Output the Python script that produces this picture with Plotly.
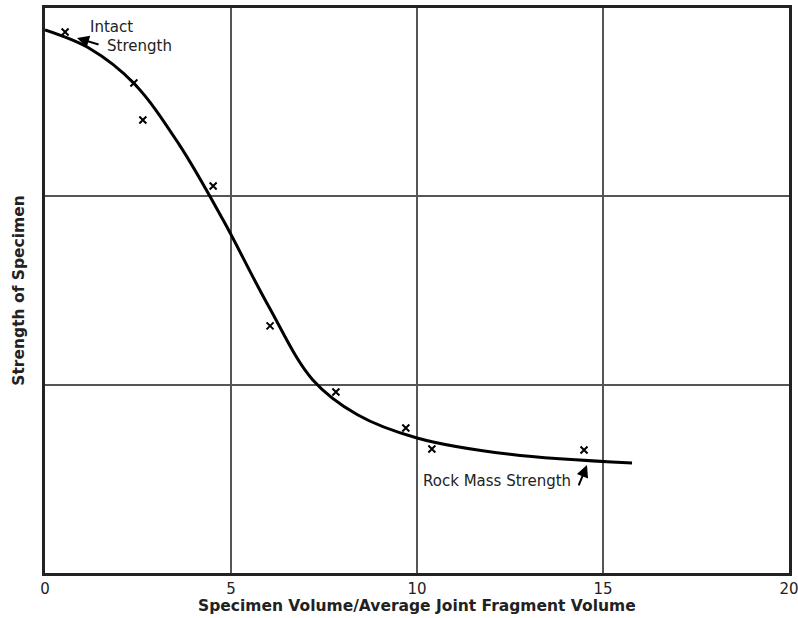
import plotly.graph_objects as go

# Data
curve_x = [0, 1.2, 2.4, 3.6, 4.8, 6.0, 7.2, 8.4, 10, 12.5, 15.78]
curve_y = [2.883, 2.785, 2.598, 2.277, 1.87, 1.42, 1.025, 0.84, 0.717, 0.63, 0.584]
pts_x = [0.54, 2.39, 2.63, 4.52, 6.05, 7.82, 9.70, 10.40, 14.49]
pts_y = [2.873, 2.602, 2.405, 2.055, 1.312, 0.961, 0.770, 0.658, 0.653]
x_ticks = [0, 5, 10, 15, 20]
y_grid = [0, 1, 2, 3]

fig = go.Figure()
fig.add_trace(go.Scatter(x=curve_x, y=curve_y, mode="lines",
                         line=dict(color="black", width=3, shape="spline", smoothing=1.0),
                         showlegend=False, hoverinfo="skip"))
fig.add_trace(go.Scatter(x=pts_x, y=pts_y, mode="markers",
                         marker=dict(symbol="x-thin", size=7, line=dict(color="black", width=2)),
                         showlegend=False))

font = "DejaVu Sans, Verdana, sans-serif"
txt = dict(family=font, size=15, color="#222")
anns = [
    dict(x=1.80, y=2.90, text="Intact", showarrow=False, font=txt),
    dict(x=2.55, y=2.80, text="Strength", showarrow=False, font=txt),
    dict(x=12.15, y=0.489, text="Rock Mass Strength", showarrow=False, font=txt),
    dict(x=0.86, y=2.841, ax=1.48, ay=2.804, axref="x", ayref="y", text="",
         showarrow=True, arrowhead=2, arrowsize=1.2, arrowwidth=2, arrowcolor="black"),
    dict(x=14.57, y=0.573, ax=14.33, ay=0.457, axref="x", ayref="y", text="",
         showarrow=True, arrowhead=2, arrowsize=1.2, arrowwidth=2, arrowcolor="black"),
    dict(x=0.5, y=-0.058, xref="paper", yref="paper", xanchor="center", yanchor="middle",
         text="<b>Specimen Volume/Average Joint Fragment Volume</b>", showarrow=False,
         font=dict(family=font, size=15.5, color="#222")),
    dict(x=-0.036, y=0.5, xref="paper", yref="paper", xanchor="center", yanchor="middle",
         text="<b>Strength of Specimen</b>", textangle=-90, showarrow=False,
         font=dict(family=font, size=15.5, color="#222")),
]
fig.update_layout(annotations=anns)

fig.update_layout(
    width=798, height=618,
    margin=dict(l=45, r=9, t=8, b=45),
    paper_bgcolor="white", plot_bgcolor="white",
    font=dict(family=font, color="#222"),
    xaxis=dict(range=[0, 20], tickvals=x_ticks, ticktext=[str(v) for v in x_ticks],
               showgrid=True, gridcolor="#555", gridwidth=1.5, zeroline=False,
               showline=True, linecolor="#222", linewidth=2.5, mirror=True,
               ticks="", automargin=False, ticklabeloverflow="allow",
               tickfont=dict(size=15, family=font, color="#222")),
    yaxis=dict(range=[0, 3], tickvals=y_grid, showticklabels=False,
               showgrid=True, gridcolor="#555", gridwidth=1.5, zeroline=False,
               showline=True, linecolor="#222", linewidth=2.5, mirror=True, ticks="",
               automargin=False),
)

fig.write_html("out.html", config={"displayModeBar": False},
               post_script="document.body.style.margin='0';")
